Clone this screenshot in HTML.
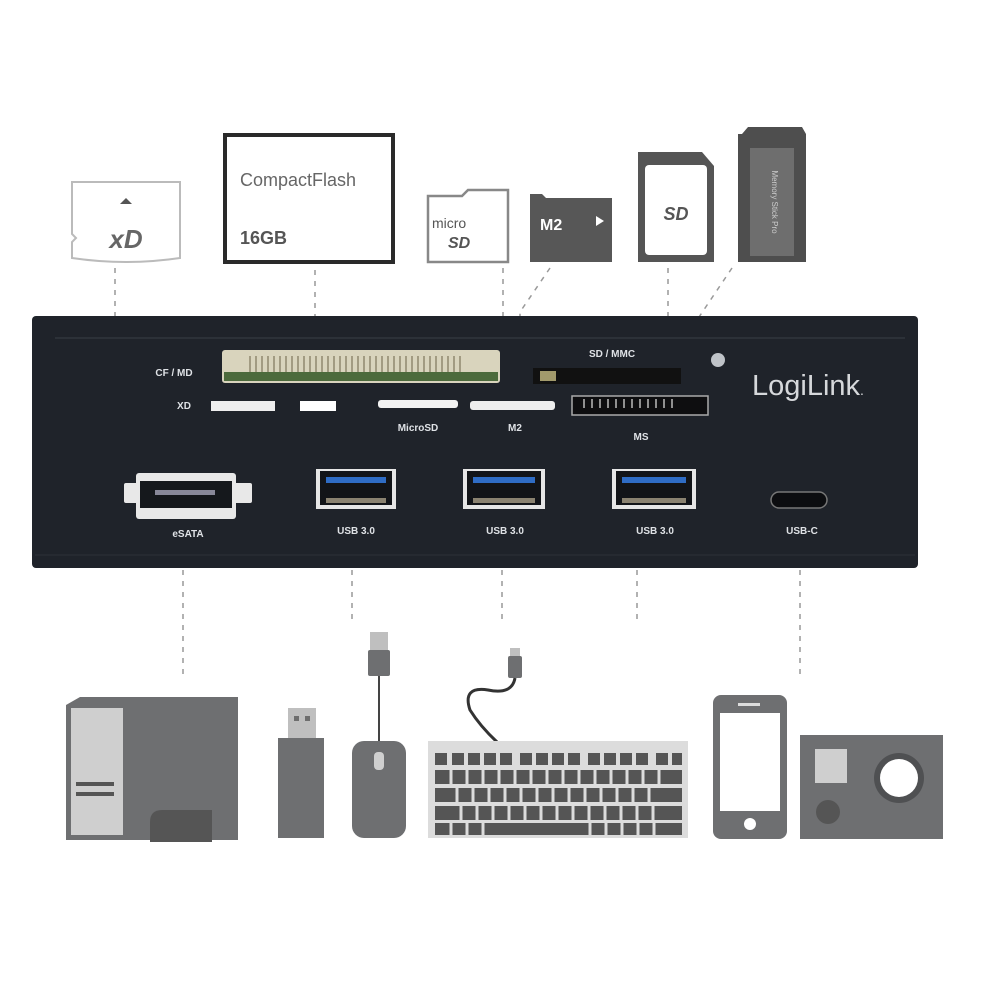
<!DOCTYPE html>
<html><head><meta charset="utf-8"><style>
html,body{margin:0;padding:0;background:#fff;width:1000px;height:1000px;overflow:hidden}
text{font-family:"Liberation Sans",sans-serif}
</style></head><body>
<svg width="1000" height="1000" viewBox="0 0 1000 1000" xmlns="http://www.w3.org/2000/svg">
<rect width="1000" height="1000" fill="#fff"/>
<!-- dashed connectors top -->
<g stroke="#999" stroke-width="1.5" stroke-dasharray="5,6" fill="none">
<path d="M115 268 V404 H178"/>
<path d="M315 270 V352"/>
<path d="M503 268 V385"/>
<path d="M550 268 L520 312 V330"/>
<path d="M668 268 V370"/>
<path d="M732 268 L697 320"/>
<path d="M183 570 V680"/>
<path d="M352 570 V625"/>
<path d="M502 570 V625"/>
<path d="M637 570 V625"/>
<path d="M800 570 V680"/>
</g>
<!-- xD card -->
<path d="M72 182 H180 V258 Q126 266 72 258 V242 L76 238 L72 234 Z" fill="#fff" stroke="#bbb" stroke-width="2"/>
<path d="M120 204 L126 198 L132 204 Z" fill="#555"/>
<text x="126" y="248" font-size="26" font-style="italic" font-weight="bold" fill="#666" text-anchor="middle">xD</text>
<!-- CF -->
<rect x="225" y="135" width="168" height="127" fill="#fff" stroke="#2a2a2a" stroke-width="4"/>
<text x="240" y="186" font-size="18" fill="#666">CompactFlash</text>
<text x="240" y="244" font-size="18" font-weight="bold" fill="#555">16GB</text>
<!-- microSD -->
<path d="M428 196 H462 L468 190 H508 V262 H428 Z" fill="#fff" stroke="#888" stroke-width="2.5"/>
<text x="432" y="228" font-size="14" fill="#555">micro</text>
<text x="448" y="248" font-size="16" font-style="italic" font-weight="bold" fill="#555">SD</text>
<!-- M2 -->
<path d="M530 194 H542 L546 198 H612 V262 H530 Z" fill="#575757"/>
<text x="540" y="230" font-size="16" font-weight="bold" fill="#fff">M2</text>
<path d="M596 216 L604 221 L596 226 Z" fill="#fff"/>
<!-- SD -->
<path d="M638 152 H702 L714 166 V262 H638 Z" fill="#555"/>
<rect x="645" y="165" width="62" height="90" rx="4" fill="#fff"/>
<text x="676" y="220" font-size="18" font-style="italic" font-weight="bold" fill="#555" text-anchor="middle">SD</text>
<!-- Memory stick -->
<path d="M742 134 L748 127 H802 L806 134 V262 H738 V134 Z" fill="#4e4e4e"/>
<rect x="750" y="148" width="44" height="108" fill="#6e6e6e"/>
<text x="772" y="202" font-size="8" fill="#ccc" text-anchor="middle" transform="rotate(90 772 202)">Memory Stick Pro</text>

<!-- panel -->
<rect x="32" y="316" width="886" height="252" rx="4" fill="#1f232a"/>
<line x1="55" y1="338" x2="905" y2="338" stroke="#3a3f47" stroke-width="1"/>
<line x1="35" y1="555" x2="915" y2="555" stroke="#2c3038" stroke-width="1"/>
<!-- CF slot -->
<rect x="222" y="350" width="278" height="33" rx="3" fill="#d9d4bd"/>
<rect x="224" y="372" width="274" height="9" fill="#4c6a3c"/>
<g stroke="#6a6248" stroke-width="1">
<path d="M250 356 V372 M256 356 V372 M262 356 V372 M268 356 V372 M274 356 V372 M280 356 V372 M286 356 V372 M292 356 V372 M298 356 V372 M304 356 V372 M310 356 V372 M316 356 V372 M322 356 V372 M328 356 V372 M334 356 V372 M340 356 V372 M346 356 V372 M352 356 V372 M358 356 V372 M364 356 V372 M370 356 V372 M376 356 V372 M382 356 V372 M388 356 V372 M394 356 V372 M400 356 V372 M406 356 V372 M412 356 V372 M418 356 V372 M424 356 V372 M430 356 V372 M436 356 V372 M442 356 V372 M448 356 V372 M454 356 V372 M460 356 V372"/>
</g>
<g font-size="10" font-weight="bold" fill="#dfe2e6" text-anchor="middle">
<text x="174" y="376">CF / MD</text>
<text x="184" y="409">XD</text>
<text x="418" y="431">MicroSD</text>
<text x="515" y="431">M2</text>
<text x="612" y="357">SD / MMC</text>
<text x="641" y="440">MS</text>
<text x="188" y="537">eSATA</text>
<text x="356" y="534">USB 3.0</text>
<text x="505" y="534">USB 3.0</text>
<text x="655" y="534">USB 3.0</text>
<text x="802" y="534">USB-C</text>
</g>
<!-- XD / microSD / M2 strips -->
<rect x="211" y="401" width="64" height="10" fill="#eee"/>
<rect x="300" y="401" width="36" height="10" fill="#fff"/>
<rect x="378" y="400" width="80" height="8" rx="3" fill="#f2f2f2"/>
<rect x="470" y="401" width="85" height="9" rx="3" fill="#eee"/>
<!-- SD slot -->
<rect x="533" y="368" width="148" height="16" fill="#111"/>
<rect x="540" y="371" width="16" height="10" fill="#a29a6c"/>
<!-- MS slot -->
<rect x="572" y="396" width="136" height="19" fill="#0e0e10" stroke="#aaa" stroke-width="1.5"/>
<g stroke="#bbb" stroke-width="1.5"><path d="M584 399 V408 M592 399 V408 M600 399 V408 M608 399 V408 M616 399 V408 M624 399 V408 M632 399 V408 M640 399 V408 M648 399 V408 M656 399 V408 M664 399 V408 M672 399 V408"/></g>
<!-- screw -->
<circle cx="718" cy="360" r="7" fill="#bfc3c8"/>
<text x="752" y="395" font-size="29" fill="#d6d8db">LogiLink<tspan font-size="14">.</tspan></text>
<!-- eSATA -->
<rect x="136" y="473" width="100" height="46" rx="3" fill="#e8e8e8"/>
<rect x="124" y="483" width="128" height="20" rx="2" fill="#e8e8e8"/>
<rect x="140" y="481" width="92" height="27" fill="#15181c"/>
<rect x="155" y="490" width="60" height="5" fill="#889"/>
<!-- USB ports -->
<g>
<rect x="316" y="469" width="80" height="40" fill="#e6e6e6"/>
<rect x="320" y="471" width="72" height="34" fill="#121418"/>
<rect x="326" y="477" width="60" height="6" fill="#2f6cc4"/>
<rect x="326" y="498" width="60" height="5" fill="#8a8270"/>
<rect x="463" y="469" width="82" height="40" fill="#e6e6e6"/>
<rect x="467" y="471" width="74" height="34" fill="#121418"/>
<rect x="473" y="477" width="62" height="6" fill="#2f6cc4"/>
<rect x="473" y="498" width="62" height="5" fill="#8a8270"/>
<rect x="612" y="469" width="84" height="40" fill="#e6e6e6"/>
<rect x="616" y="471" width="76" height="34" fill="#121418"/>
<rect x="622" y="477" width="64" height="6" fill="#2f6cc4"/>
<rect x="622" y="498" width="64" height="5" fill="#8a8270"/>
</g>
<rect x="771" y="492" width="56" height="16" rx="8" fill="#0c0d10" stroke="#777" stroke-width="1.5"/>

<!-- bottom devices -->
<!-- tower -->
<path d="M66 705 L80 697 H238 V840 H66 Z" fill="#6e6f71"/>
<rect x="71" y="708" width="52" height="127" fill="#cfcfcf"/>
<rect x="76" y="782" width="38" height="4" fill="#555"/>
<rect x="76" y="792" width="38" height="4" fill="#555"/>
<path d="M150 842 V822 Q150 810 162 810 H212 V842 Z" fill="#555"/>
<!-- usb stick -->
<rect x="288" y="708" width="28" height="32" fill="#bfbfbf"/>
<rect x="294" y="716" width="5" height="5" fill="#6e6e6e"/>
<rect x="305" y="716" width="5" height="5" fill="#6e6e6e"/>
<rect x="278" y="738" width="46" height="100" fill="#6e6f71"/>
<!-- mouse -->
<rect x="370" y="632" width="18" height="20" fill="#bfbfbf"/>
<rect x="368" y="650" width="22" height="26" rx="2" fill="#6e6f71"/>
<path d="M379 676 V745" stroke="#444" stroke-width="2"/>
<rect x="352" y="741" width="54" height="97" rx="12" fill="#6e6f71"/>
<rect x="374" y="752" width="10" height="18" rx="4" fill="#cfcfcf"/>
<!-- keyboard -->
<rect x="510" y="648" width="10" height="10" fill="#bfbfbf"/>
<rect x="508" y="656" width="14" height="22" rx="2" fill="#6e6f71"/>
<path d="M515 678 Q512 695 488 690 Q462 686 470 710 Q480 726 497 742" stroke="#333" stroke-width="3" fill="none"/>
<rect x="428" y="741" width="260" height="97" fill="#dcdcdc"/>
<g fill="#555">
<rect x="435" y="753" width="12" height="12"/><rect x="452" y="753" width="12" height="12"/><rect x="468" y="753" width="12" height="12"/><rect x="484" y="753" width="12" height="12"/><rect x="500" y="753" width="12" height="12"/><rect x="520" y="753" width="12" height="12"/><rect x="536" y="753" width="12" height="12"/><rect x="552" y="753" width="12" height="12"/><rect x="568" y="753" width="12" height="12"/><rect x="588" y="753" width="12" height="12"/><rect x="604" y="753" width="12" height="12"/><rect x="620" y="753" width="12" height="12"/><rect x="636" y="753" width="12" height="12"/><rect x="656" y="753" width="12" height="12"/><rect x="672" y="753" width="10" height="12"/>
</g>
<g fill="#555">
<rect x="435" y="770" width="247" height="14"/>
<rect x="435" y="788" width="247" height="14"/>
<rect x="435" y="806" width="247" height="14"/>
<rect x="435" y="823" width="247" height="12"/>
</g>
<g stroke="#dcdcdc" stroke-width="3">
<path d="M451 770 V784 M467 770 V784 M483 770 V784 M499 770 V784 M515 770 V784 M531 770 V784 M547 770 V784 M563 770 V784 M579 770 V784 M595 770 V784 M611 770 V784 M627 770 V784 M643 770 V784 M659 770 V784"/>
<path d="M457 788 V802 M473 788 V802 M489 788 V802 M505 788 V802 M521 788 V802 M537 788 V802 M553 788 V802 M569 788 V802 M585 788 V802 M601 788 V802 M617 788 V802 M633 788 V802 M649 788 V802"/>
<path d="M461 806 V820 M477 806 V820 M493 806 V820 M509 806 V820 M525 806 V820 M541 806 V820 M557 806 V820 M573 806 V820 M589 806 V820 M605 806 V820 M621 806 V820 M637 806 V820 M653 806 V820"/>
<path d="M451 823 V835 M467 823 V835 M483 823 V835 M590 823 V835 M606 823 V835 M622 823 V835 M638 823 V835 M654 823 V835"/>
</g>
<!-- phone -->
<rect x="713" y="695" width="74" height="144" rx="8" fill="#6e6f71"/>
<rect x="720" y="713" width="60" height="98" fill="#fff"/>
<rect x="738" y="703" width="22" height="3" fill="#ddd"/>
<circle cx="750" cy="824" r="6" fill="#fff"/>
<!-- camera -->
<rect x="800" y="735" width="143" height="104" fill="#6e6f71"/>
<rect x="815" y="749" width="32" height="34" fill="#cfcfcf"/>
<circle cx="899" cy="778" r="25" fill="#4f5052"/>
<circle cx="899" cy="778" r="19" fill="#fff"/>
<circle cx="828" cy="812" r="12" fill="#555"/>
</svg>
</body></html>
